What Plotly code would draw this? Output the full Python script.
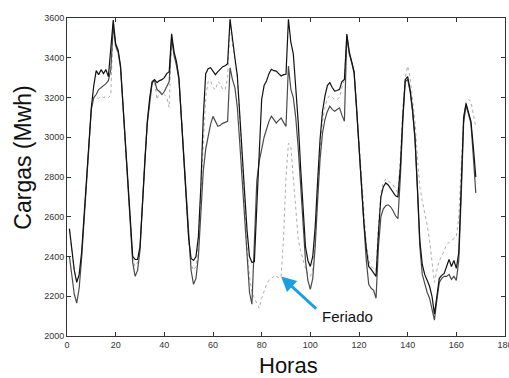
import plotly.graph_objects as go

# Hourly load over one week (hours 1..168), three curves
HOURS = list(range(1, 169))

# Solid black curve
carga_a = [
    2540, 2430, 2330, 2270, 2310, 2420, 2600, 2770, 2960, 3150, 3260, 3335, 3315, 3340, 3320, 3340, 3305, 3440, 3590, 3470, 3440, 3360, 3170, 2970,
    2760, 2560, 2400, 2385, 2385, 2450, 2680, 2900, 3080, 3200, 3280, 3290, 3275, 3285, 3290, 3300, 3320, 3330, 3520, 3430, 3380, 3300, 3110, 2910,
    2700, 2490, 2390, 2380, 2400, 2500, 2750, 3100, 3320, 3345, 3350, 3330, 3315, 3330, 3345, 3355, 3360, 3370, 3594, 3480, 3400, 3310, 3130, 2930,
    2720, 2530, 2400, 2370, 2375, 2650, 2950, 3190, 3260, 3283, 3320, 3342, 3335, 3333, 3320, 3308, 3315, 3317, 3594, 3477, 3420, 3250, 3080, 2850,
    2620, 2450, 2380, 2350, 2400, 2550, 2780, 2990, 3130, 3207, 3260, 3275, 3250, 3232, 3235, 3241, 3280, 3291, 3519, 3430, 3380, 3330, 3150, 2950,
    2750, 2570, 2440, 2350, 2335, 2320, 2300, 2520, 2700, 2750, 2770, 2760, 2740, 2720, 2705, 2700, 2850, 3100, 3290, 3305, 3240, 3140, 3000, 2750,
    2480, 2360, 2310, 2280, 2250, 2200, 2110, 2200, 2290, 2305, 2315, 2350, 2385, 2350, 2380, 2340, 2420, 2750, 3100, 3170, 3120, 3080, 2950, 2800,
]

# Solid dark grey curve
carga_b = [
    2400, 2300, 2210, 2165, 2240, 2390, 2570, 2750, 2940, 3140, 3200, 3215, 3240, 3250, 3260, 3270, 3285, 3340, 3560, 3460, 3430, 3350, 3160, 2960,
    2740, 2540, 2370, 2300, 2330, 2430, 2670, 2890, 3070, 3190, 3275, 3285, 3240, 3230, 3215, 3230, 3255, 3280, 3500, 3410, 3360, 3290, 3100, 2900,
    2690, 2470, 2330, 2260, 2290, 2400, 2620, 2830, 2940, 3010, 3065, 3105, 3080, 3055, 3060, 3070, 3075, 3080, 3350, 3290, 3250, 3150, 2970, 2780,
    2570, 2380, 2220, 2160, 2500, 2780, 2880, 2950, 3000, 3040, 3080, 3106, 3090, 3072, 3085, 3097, 3075, 3055, 3358, 3241, 3200, 3100, 2950, 2760,
    2550, 2380, 2280, 2235, 2290, 2450, 2680, 2890, 3020, 3089, 3130, 3156, 3140, 3131, 3140, 3148, 3110, 3081, 3510, 3420, 3375, 3320, 3140, 2940,
    2730, 2540, 2380, 2260, 2240, 2230, 2190, 2450, 2600, 2640, 2655, 2660, 2650, 2630, 2605, 2590, 2800, 3080, 3280, 3290, 3230, 3130, 2990, 2740,
    2450, 2310, 2260, 2220, 2190, 2140, 2080, 2180, 2270, 2290, 2300, 2300, 2310, 2285, 2300, 2280, 2380, 2700, 3070, 3160, 3110, 3070, 2900, 2720,
]

# Dotted light grey curve (shows the holiday on the fourth day)
carga_c = [
    2530, 2420, 2330, 2275, 2300, 2400, 2570, 2760, 2950, 3140, 3200, 3200, 3195, 3205, 3200, 3205, 3200, 3210, 3575, 3450, 3420, 3350, 3160, 2960,
    2750, 2550, 2390, 2350, 2370, 2440, 2680, 2890, 3070, 3190, 3270, 3280, 3190, 3230, 3225, 3215, 3200, 3150, 3510, 3420, 3370, 3290, 3100, 2900,
    2690, 2480, 2360, 2330, 2350, 2480, 2720, 2980, 3200, 3280, 3285, 3250, 3240, 3280, 3270, 3240, 3240, 3300, 3580, 3470, 3390, 3300, 3100, 2880,
    2650, 2450, 2300, 2220, 2190, 2165, 2140, 2190, 2230, 2260, 2280, 2290, 2300, 2305, 2290, 2300, 2500, 2800, 2970, 2950, 2800, 2620, 2490, 2430,
    2380, 2340, 2310, 2300, 2330, 2480, 2720, 2940, 3080, 3150, 3195, 3210, 3200, 3190, 3190, 3200, 3250, 3290, 3500, 3420, 3380, 3320, 3160, 2980,
    2780, 2600, 2460, 2380, 2350, 2340, 2330, 2560, 2720, 2770, 2790, 2780, 2770, 2760, 2740, 2720, 2900, 3150, 3300, 3358, 3300, 3200, 3080, 2900,
    2750, 2680, 2620, 2560, 2480, 2380, 2270, 2330, 2380, 2400, 2430, 2460, 2470, 2480, 2490, 2500, 2600, 2850, 3100, 3180, 3190, 3180, 3120, 3050,
]

X_TICKS = [0, 20, 40, 60, 80, 100, 120, 140, 160, 180]
Y_TICKS = [2000, 2200, 2400, 2600, 2800, 3000, 3200, 3400, 3600]

FERIADO_HOUR = 88  # holiday marker on the dotted curve

FONT = "Liberation Sans, Arial, sans-serif"

fig = go.Figure()
fig.add_trace(go.Scatter(x=HOURS, y=carga_c, mode="lines",
                         line=dict(color="#ababab", width=1, dash="dot")))
fig.add_trace(go.Scatter(x=HOURS, y=carga_b, mode="lines",
                         line=dict(color="#4a4a4a", width=1.2)))
fig.add_trace(go.Scatter(x=HOURS, y=carga_a, mode="lines",
                         line=dict(color="#111111", width=1.2)))

tip_y = carga_c[HOURS.index(FERIADO_HOUR)]

# Blue arrow pointing at the holiday dip
fig.add_annotation(x=FERIADO_HOUR, y=tip_y, xref="x", yref="y",
                   ax=103, ay=2130, axref="x", ayref="y",
                   text="", showarrow=True, arrowhead=2, arrowsize=1,
                   arrowwidth=3, arrowcolor="#1aa0e0", standoff=0)
fig.add_annotation(x=104, y=2100, xref="x", yref="y", text="Feriado",
                   showarrow=False, xanchor="left", yanchor="middle",
                   font=dict(family=FONT, size=15, color="#111111"))

# Axis titles
fig.add_annotation(x=0.505, y=-0.094, xref="paper", yref="paper",
                   text="Horas", showarrow=False,
                   xanchor="center", yanchor="middle",
                   font=dict(family=FONT, size=22, color="#111111"))
fig.add_annotation(x=-0.101, y=0.56, xref="paper", yref="paper",
                   text="Cargas (Mwh)", showarrow=False, textangle=-90,
                   xanchor="center", yanchor="middle",
                   font=dict(family=FONT, size=23, color="#111111"))

axis_common = dict(showline=True, linecolor="#333333", linewidth=1,
                   mirror="ticks", ticks="inside", ticklen=4,
                   tickcolor="#333333", showgrid=False, zeroline=False,
                   automargin=False, ticklabeloverflow="allow",
                   tickfont=dict(family=FONT, size=9, color="#333333"))

fig.update_layout(
    width=509, height=378,
    margin=dict(l=67, r=4, t=18, b=42),
    paper_bgcolor="white", plot_bgcolor="white",
    showlegend=False,
    xaxis=dict(range=[0, 180], tickvals=X_TICKS, **axis_common),
    yaxis=dict(range=[2000, 3600], tickvals=Y_TICKS, **axis_common),
)

fig.write_html("out.html")
